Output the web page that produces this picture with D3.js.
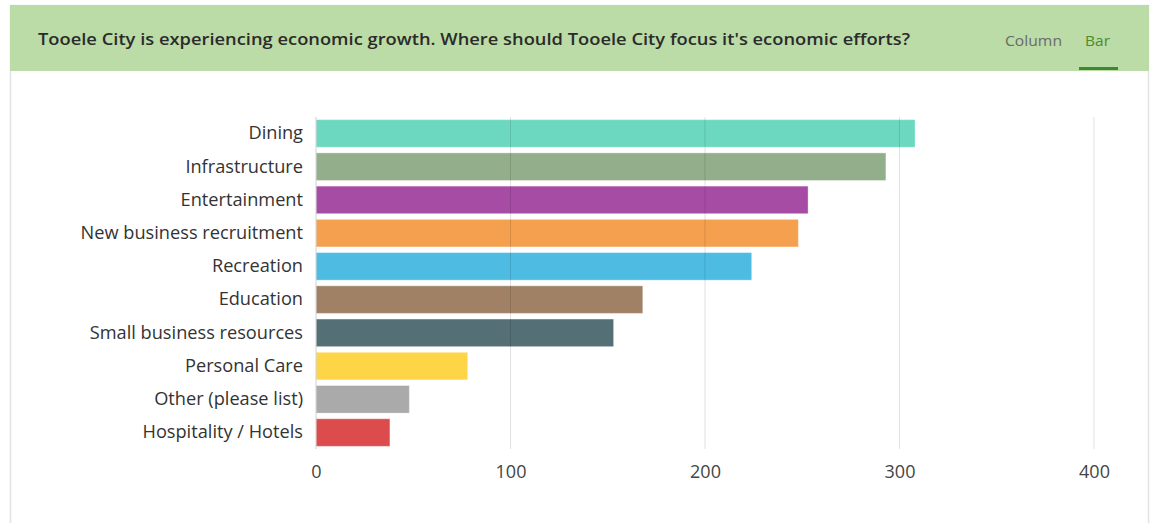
<!DOCTYPE html>
<html>
<head>
<meta charset="utf-8">
<script src="https://cdn.jsdelivr.net/npm/d3@7"></script>
<style>
  html, body { margin: 0; padding: 0; background: #fff; }
  svg { display: block; }
</style>
</head>
<body>
<svg id="chart" width="1153" height="523"></svg>
<script>
const title = "Tooele City is experiencing economic growth. Where should Tooele City focus it's economic efforts?";
const categories = ["Dining", "Infrastructure", "Entertainment", "New business recruitment", "Recreation", "Education", "Small business resources", "Personal Care", "Other (please list)", "Hospitality / Hotels"];
const values = [308, 293, 253, 248, 224, 168, 153, 78, 48, 38];
const colors = ["#6dd8c0", "#93ae8a", "#a64ca5", "#f5a04f", "#4dbbe2", "#a08166", "#546f75", "#fdd546", "#aaaaaa", "#dc4c4c"];
const tickValues = [0, 100, 200, 300, 400];
const tabs = ["Column", "Bar"];

const svg = d3.select("#chart");
const font = "'Open Sans', 'Noto Sans', sans-serif";

// card
svg.append("rect").attr("x", 10.5).attr("y", 5.5).attr("width", 1138).attr("height", 530)
  .attr("fill", "#fff").attr("stroke", "#e3e3e3").attr("stroke-width", 1.5);
svg.append("rect").attr("x", 10).attr("y", 5).attr("width", 1139).attr("height", 66)
  .attr("fill", "#bbdba7");

svg.append("text").attr("x", 38).attr("y", 45)
  .attr("font-family", font).attr("font-size", 17).attr("font-weight", 600)
  .attr("fill", "#2b2b2b").attr("textLength", 872).attr("lengthAdjust", "spacingAndGlyphs")
  .text(title);

svg.append("text").attr("x", 1005).attr("y", 46).attr("font-family", font).attr("font-size", 15)
  .attr("fill", "#6a6a6a").attr("textLength", 57).attr("lengthAdjust", "spacingAndGlyphs").text(tabs[0]);
svg.append("text").attr("x", 1085).attr("y", 46).attr("font-family", font).attr("font-size", 15)
  .attr("fill", "#4f8a2b").attr("textLength", 25).attr("lengthAdjust", "spacingAndGlyphs").text(tabs[1]);
svg.append("rect").attr("x", 1079).attr("y", 67).attr("width", 39).attr("height", 3).attr("fill", "#3b8a2e");

// scales
const x = d3.scaleLinear().domain([0, 400]).range([316, 1094]);
const y = d3.scaleBand().domain(categories).range([117, 449]).paddingInner(0.17).paddingOuter(0.08);

const g = svg.append("g");

// bars
g.selectAll("rect.bar").data(categories).join("rect")
  .attr("class", "bar")
  .attr("x", x(0))
  .attr("y", d => y(d))
  .attr("width", (d, i) => x(values[i]) - x(0))
  .attr("height", y.bandwidth())
  .attr("fill", (d, i) => colors[i])
  .attr("stroke", "rgba(255,255,255,0.35)").attr("stroke-width", 1);

// gridlines on top
g.selectAll("line.grid").data(tickValues).join("line")
  .attr("class", "grid")
  .attr("x1", d => x(d)).attr("x2", d => x(d))
  .attr("y1", 117).attr("y2", 449)
  .attr("stroke", d => d === 0 ? "#d0d0d0" : "rgba(0,0,0,0.12)").attr("stroke-width", 1);

// x axis labels
const xAxis = d3.axisBottom(x).tickValues(tickValues).tickSize(0).tickPadding(0);
const ax = svg.append("g").attr("transform", "translate(0,465)").call(xAxis);
ax.select(".domain").remove();
ax.selectAll("text").attr("font-family", font).attr("font-size", 18).attr("fill", "#444").attr("dy", "0.71em");

// y axis labels
const yAxis = d3.axisLeft(y).tickSize(0).tickPadding(13);
const ay = svg.append("g").attr("transform", `translate(${x(0)},0)`).call(yAxis);
ay.select(".domain").remove();
ay.selectAll("text").attr("font-family", font).attr("font-size", 18.2).attr("fill", "#333");
</script>
</body>
</html>
